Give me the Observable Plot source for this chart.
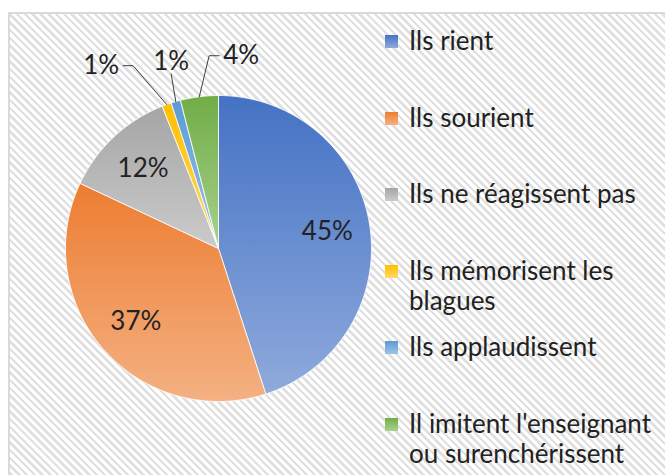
<!DOCTYPE html>
<html><head><meta charset="utf-8">
<script src="https://cdn.jsdelivr.net/npm/d3@7"></script>
<script src="https://cdn.jsdelivr.net/npm/@observablehq/plot@0.6"></script>
<style>
html,body{margin:0;padding:0;background:#fff;width:665px;height:475px;overflow:hidden;font-family:Lato,"Open Sans",sans-serif;}
#frame{position:absolute;left:8px;top:12px;width:720px;height:520px;border:2px solid #dadada;
  background:repeating-linear-gradient(45deg,#ffffff 0px,#ffffff 3px,#e0e0e0 3px,#e0e0e0 5.5px);}
#chart{position:absolute;left:0;top:0;}
#legend{position:absolute;left:385px;top:25px;}
.item{position:relative;height:76.6px;}
.sw{position:absolute;left:0;top:10px;width:13px;height:13px;}
.lab{position:absolute;left:24px;top:0;width:264px;font-size:26px;line-height:30px;color:#222;white-space:normal;}
</style></head>
<body>
<div id="frame"></div>
<div id="chart"></div>
<div id="legend"></div>
<script>
const categories = ["Ils rient","Ils sourient","Ils ne réagissent pas","Ils mémorisent les blagues","Ils applaudissent","Il imitent l'enseignant ou surenchérissent"];
const values = [45,37,12,1,1,4];
const valueLabels = ["45%","37%","12%","1%","1%","4%"];
const colorsTop = ["#4472C4","#ED7D31","#A5A5A5","#FFC000","#5B9BD5","#70AD47"];
const colorsBottom = ["#8FAADC","#F4B183","#CBCBCB","#FFD966","#9DC3E6","#A9D18E"];

const W = 380, H = 475, CX = 218, CY = 248, R = 153;
const pie = d3.pie().sort(null).value(d => d)(values);

// slice polygons (unit coords, y up, clockwise from 12 o'clock)
const polys = [];
pie.forEach((p, i) => {
  const steps = Math.max(2, Math.ceil((p.endAngle - p.startAngle) / (2 * Math.PI) * 180));
  polys.push({i, x: 0, y: 0});
  for (let k = 0; k <= steps; k++) {
    const a = p.startAngle + (p.endAngle - p.startAngle) * k / steps;
    polys.push({i, x: Math.sin(a), y: Math.cos(a)});
  }
  polys.push({i, x: 0, y: 0});
});

const mid = p => (p.startAngle + p.endAngle) / 2;
const inside = [], outside = [];
pie.forEach((p, i) => {
  const a = mid(p);
  if (values[i] >= 5) inside.push({i, x: 0.72 * Math.sin(a), y: 0.72 * Math.cos(a), t: valueLabels[i]});
  else outside.push({i, a, nx: 1.25 * Math.sin(a), x: 1.25 * Math.sin(a), y: 1.27 * Math.cos(a), t: valueLabels[i]});
});
// horizontal dodge of outside labels
outside.sort((a, b) => a.nx - b.nx);
const gap = 70 / R;
for (let pass = 0; pass < 200; pass++) {
  for (let k = 1; k < outside.length; k++) {
    const d = outside[k].x - outside[k - 1].x;
    if (d < gap) { const m = (gap - d) / 2; outside[k].x += m; outside[k - 1].x -= m; }
  }
}
// leader lines
const hw = 22 / R, elb = 10 / R;
const leaders = [];
outside.forEach(o => {
  const ex = Math.sin(o.a), ey = Math.cos(o.a);
  const dx = ex - o.x;
  if (Math.abs(dx) > hw) {
    const s = Math.sign(dx);
    leaders.push({i: o.i, x: o.x + s * hw, y: o.y});
    leaders.push({i: o.i, x: o.x + s * (hw + elb), y: o.y});
  } else {
    leaders.push({i: o.i, x: o.x, y: o.y - 12 / R});
  }
  leaders.push({i: o.i, x: ex, y: ey});
});

const svg = Plot.plot({
  width: W, height: H, margin: 0,
  x: {domain: [-CX / R, (W - CX) / R], axis: null},
  y: {domain: [-(H - CY) / R, CY / R], axis: null},
  color: {type: "identity"},
  style: {background: "transparent", overflow: "visible"},
  marks: [
    Plot.line(polys, {x: "x", y: "y", z: "i", fill: d => `url(#grad${d.i})`, stroke: "white", strokeWidth: 0.8, strokeLinejoin: "round", curve: "linear"}),
    Plot.line(leaders, {x: "x", y: "y", z: "i", stroke: "#404040", strokeWidth: 1, curve: "linear"}),
    Plot.text(inside, {x: "x", y: "y", text: "t", fontSize: 26, fontFamily: "Lato", fill: "#222"}),
    Plot.text(outside, {x: "x", y: "y", text: "t", fontSize: 26, fontFamily: "Lato", fill: "#222"})
  ]
});
const defs = d3.select(svg).insert("defs", ":first-child");
colorsTop.forEach((c, i) => {
  const g = defs.append("linearGradient").attr("id", `grad${i}`).attr("x1", 0).attr("y1", 0).attr("x2", 0).attr("y2", 1);
  g.append("stop").attr("offset", "0%").attr("stop-color", c);
  g.append("stop").attr("offset", "100%").attr("stop-color", colorsBottom[i]);
});
document.getElementById("chart").appendChild(svg);

const legend = d3.select("#legend");
categories.forEach((c, i) => {
  const it = legend.append("div").attr("class", "item");
  it.append("div").attr("class", "sw").style("background", `linear-gradient(to bottom, ${colorsTop[i]}, ${colorsBottom[i]})`);
  it.append("div").attr("class", "lab").text(c);
});
</script>
</body></html>
